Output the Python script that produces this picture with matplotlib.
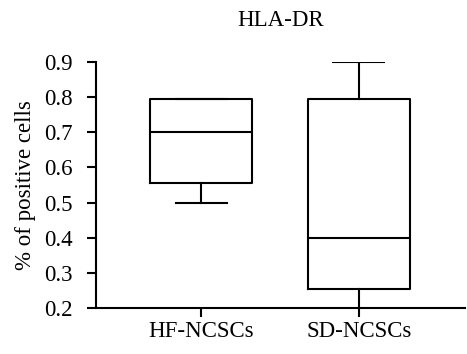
import matplotlib.pyplot as plt

# box summary values
groups = ['HF-NCSCs', 'SD-NCSCs']
whislo = [0.50, 0.19]
q1 = [0.555, 0.255]
med = [0.70, 0.40]
q3 = [0.795, 0.795]
whishi = [0.795, 0.90]
yticks = [0.2, 0.3, 0.4, 0.5, 0.6, 0.7, 0.8, 0.9]

plt.rcParams['font.family'] = ['Liberation Serif', 'DejaVu Serif']

stats = [dict(label=g, whislo=lo, q1=a, med=m, q3=b, whishi=hi, fliers=[])
         for g, lo, a, m, b, hi in zip(groups, whislo, q1, med, q3, whishi)]

fig = plt.figure(figsize=(4.67, 3.54), dpi=100)
ax = fig.add_axes([0.2056, 0.130, 0.79, 0.695])

lw = 1.5
ax.bxp(stats, positions=[1, 2], widths=0.646, showfliers=False,
       boxprops=dict(color='black', linewidth=lw),
       medianprops=dict(color='black', linewidth=lw),
       whiskerprops=dict(color='black', linewidth=lw),
       capprops=dict(color='black', linewidth=lw))

ax.set_xlim(0.335, 2.671)
ax.set_ylim(0.2, 0.9)
ax.set_yticks(yticks)
ax.set_yticklabels([f'{v:.1f}' for v in yticks])
ax.set_xticks([1, 2])
ax.set_xticklabels(groups)

for s in ['top', 'right']:
    ax.spines[s].set_visible(False)
for s in ['left', 'bottom']:
    ax.spines[s].set_linewidth(lw)
ax.tick_params(axis='both', direction='out', length=6.5, width=lw, labelsize=16.5)
ax.tick_params(axis='y', pad=10)
ax.tick_params(axis='x', pad=3)

ax.set_ylabel('% of positive cells', fontsize=16.5, labelpad=6)
ax.set_title('HLA-DR', fontsize=16.5, pad=26)

fig.savefig('out.png', dpi=100)
